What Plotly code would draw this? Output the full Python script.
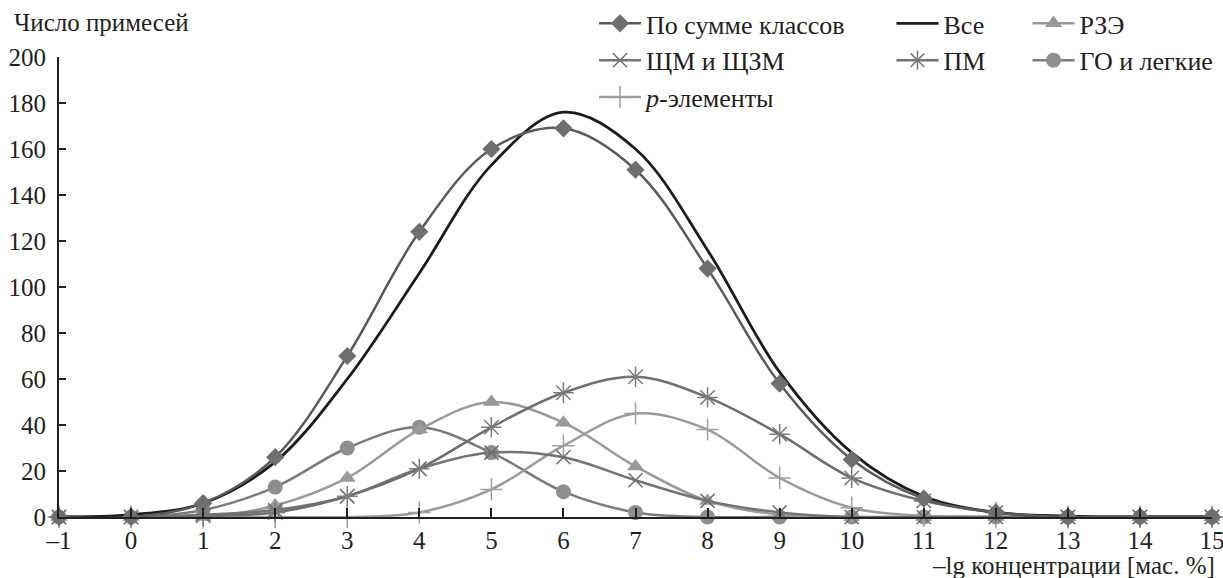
import plotly.graph_objects as go

x = list(range(-1, 16))
x_tick_labels = ["–1", "0", "1", "2", "3", "4", "5", "6", "7", "8", "9", "10", "11", "12", "13", "14", "15"]
y_ticks = [0, 20, 40, 60, 80, 100, 120, 140, 160, 180, 200]

sum_classes = [0, 0, 6, 26, 70, 124, 160, 169, 151, 108, 58, 25, 8, 2, 0, 0, 0]
vse = [0, 1, 6, 24, 60, 106, 153, 176, 160, 116, 63, 28, 9, 2, 0.4, 0, 0]
rze = [0, 0, 0, 5, 17, 38, 50, 41, 22, 7, 1, 0, 0, 0, 0, 0, 0]
shm = [0, 0, 1, 3, 9, 21, 28, 26, 16, 7, 2, 0, 0, 0, 0, 0, 0]
pm = [0, 0, 0.5, 2, 9, 21, 39, 54, 61, 52, 36, 17, 7, 2, 0, 0, 0]
go_light = [0, 0, 3, 13, 30, 39, 28, 11, 2, 0, 0, 0, 0, 0, 0, 0, 0]
p_el = [0, 0, 0, 0, 0, 2, 12, 31, 45, 38, 17, 4, 0.5, 0, 0, 0, 0]

FONT = "Times New Roman, Tinos, Liberation Serif, DejaVu Serif, Noto Serif, serif"
TXT = "#231f20"

fig = go.Figure()

def add(name, y, color, mcolor, symbol, msize, legend, lw=2.5, mline=None):
    marker = dict(symbol=symbol, size=msize, color=mcolor)
    if mline:
        marker["line"] = dict(color=mcolor, width=mline)
    fig.add_trace(go.Scatter(
        x=x, y=y, name=name, mode="lines+markers" if symbol else "lines",
        line=dict(color=color, width=lw, shape="spline", smoothing=1.0),
        marker=marker, cliponaxis=False, legend=legend, legendgroup=name,
    ))

add("ГО и легкие", go_light, "#7a7a7a", "#8e8e8e", "circle", 15, "legend3")
add("<i>p</i>-элементы", p_el, "#9a9a9a", "#a0a0a0", "cross-thin-open", 16, "legend", mline=1.5)
add("РЗЭ", rze, "#9a9a9a", "#999999", "triangle-up", 15, "legend3")
add("ЩМ и ЩЗМ", shm, "#737373", "#6e6e6e", "x-thin-open", 14, "legend", mline=1.5)
add("ПМ", pm, "#6e6e6e", "#7a7a7a", "asterisk-open", 17, "legend2", mline=1.5)
add("Все", vse, "#1e1a1b", "#1e1a1b", None, 0, "legend2", lw=2.8)
add("По сумме классов", sum_classes, "#5a5a5c", "#6d6e71", "diamond", 14, "legend")

order = {"По сумме классов": 1, "ЩМ и ЩЗМ": 2, "<i>p</i>-элементы": 3,
         "Все": 1, "ПМ": 2, "РЗЭ": 1, "ГО и легкие": 2}
for tr in fig.data:
    tr.legendrank = order[tr.name]

leg_common = dict(font=dict(family=FONT, size=26, color=TXT), bgcolor="rgba(0,0,0,0)",
                  xanchor="left", yanchor="top", y=1.124, itemwidth=42,
                  tracegroupgap=2, traceorder="normal")

fig.update_layout(
    width=1223, height=578,
    margin=dict(l=59, r=11, t=57, b=61, autoexpand=False),
    paper_bgcolor="white", plot_bgcolor="white",
    font=dict(family=FONT, size=25, color=TXT),
    legend=dict(x=0.464, **leg_common),
    legend2=dict(x=0.722, **leg_common),
    legend3=dict(x=0.84, **leg_common),
    xaxis=dict(range=[-1, 15], tickvals=x, ticktext=x_tick_labels,
               showgrid=False, zeroline=False, showline=True, linecolor=TXT, linewidth=2,
               ticks="inside", ticklen=9, tickwidth=2, tickcolor=TXT,
               ticklabeloverflow="allow",
               tickfont=dict(family=FONT, size=25, color=TXT)),
    yaxis=dict(range=[0, 200], tickvals=y_ticks,
               showgrid=False, zeroline=False, showline=True, linecolor=TXT, linewidth=2,
               ticks="inside", ticklen=7, tickwidth=2, tickcolor=TXT,
               ticklabelstandoff=6, ticklabeloverflow="allow",
               tickfont=dict(family=FONT, size=25, color=TXT)),
    annotations=[
        dict(text="Число примесей", xref="paper", yref="paper", x=-0.041, y=1.074,
             xanchor="left", yanchor="middle", showarrow=False,
             font=dict(family=FONT, size=25, color=TXT)),
        dict(text="–lg концентрации [мас. %]", xref="paper", yref="paper", x=1.004, y=-0.106,
             xanchor="right", yanchor="middle", showarrow=False,
             font=dict(family=FONT, size=25, color=TXT)),
    ],
)

fig.write_html("out.html")
